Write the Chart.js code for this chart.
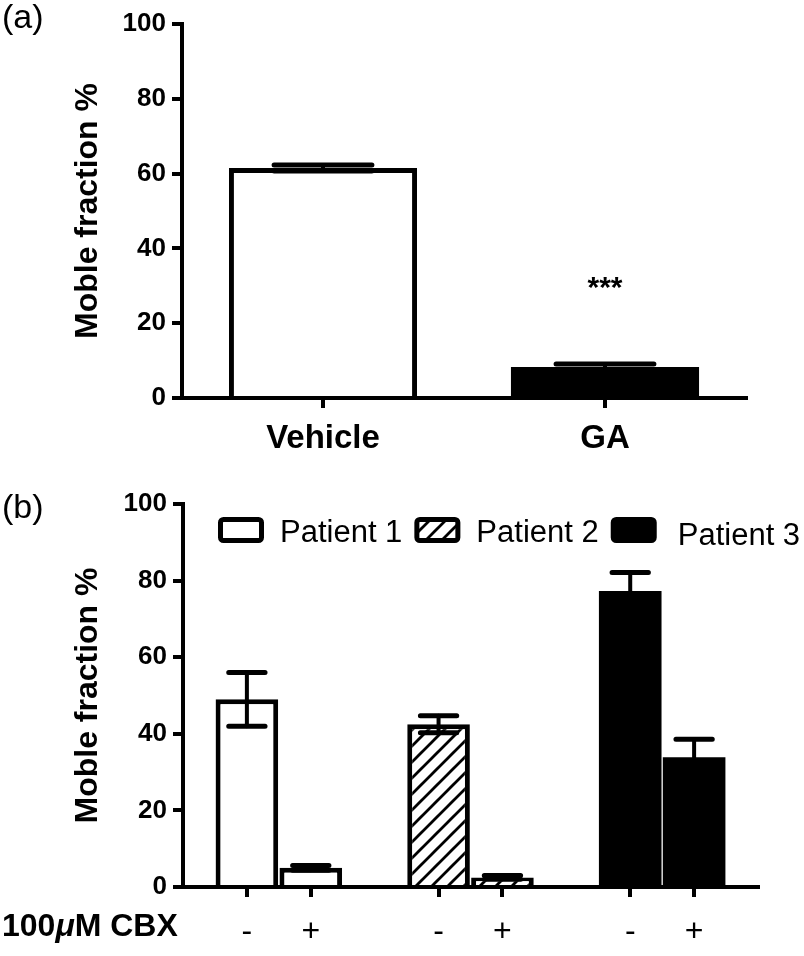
<!DOCTYPE html>
<html>
<head>
<meta charset="utf-8">
<title>Moble fraction</title>
<script src="https://cdn.jsdelivr.net/npm/chart.js@4.4.0/dist/chart.umd.min.js"></script>
<style>
  html, body { margin: 0; padding: 0; background: #ffffff; }
  .panel { position: relative; width: 804px; }
  #panelA { height: 470px; }
  #panelB { height: 486px; }
</style>
</head>
<body>
<div class="panel" id="panelA"><canvas id="chartA"></canvas></div>
<div class="panel" id="panelB"><canvas id="chartB"></canvas></div>
<script>
// panel (a)
const treatmentLabels = ["Vehicle", "GA"];
const treatmentValues = [61.5, 8.3];
const treatmentErrors = [0.8, 0.8];
const treatmentMarks = ["", "***"];

// panel (b)
const patientLabels = ["Patient 1", "Patient 2", "Patient 3"];
const cbxLabels = ["-", "+"];
const patient1Values = [49, 5];
const patient1Errors = [7, 0.6];
const patient2Values = [42.5, 2.5];
const patient2Errors = [2.2, 0.5];
const patient3Values = [77.3, 33.9];
const patient3Errors = [4.8, 4.7];

const yTicks = [0, 20, 40, 60, 80, 100];

const FONT = "'Liberation Sans', Arial, Helvetica, sans-serif";

// each patient gets a "-" and a "+" slot, with one empty slot between patients
const slotOf = (group, k) => group * (cbxLabels.length + 1) + k;

function makeHatch() {
  const c = document.createElement("canvas");
  c.width = 16;
  c.height = 16;
  const g = c.getContext("2d");
  g.fillStyle = "#ffffff";
  g.fillRect(0, 0, 16, 16);
  g.strokeStyle = "#000000";
  g.lineWidth = 2.8;
  g.beginPath();
  g.moveTo(-2, 18); g.lineTo(18, -2);
  g.moveTo(-10, 10); g.lineTo(10, -10);
  g.moveTo(6, 26); g.lineTo(26, 6);
  g.stroke();
  return g.createPattern(c, "repeat");
}

const errorBarPlugin = {
  id: "errorBars",
  afterDatasetsDraw(chart, args, opts) {
    const ctx = chart.ctx;
    const yScale = chart.scales.y;
    chart.data.datasets.forEach((ds, i) => {
      const meta = chart.getDatasetMeta(i);
      meta.data.forEach((bar, j) => {
        const raw = ds.data[j];
        const val = typeof raw === "object" ? raw.y : raw;
        const err = ds.errors[j];
        const yHi = yScale.getPixelForValue(val + err);
        const yLo = yScale.getPixelForValue(Math.max(0, val - err));
        const half = (bar.width * opts.capRatio) / 2;
        ctx.save();
        ctx.strokeStyle = "#000000";
        ctx.lineCap = "round";
        ctx.lineWidth = opts.stemWidth;
        ctx.beginPath();
        ctx.moveTo(bar.x, yHi);
        ctx.lineTo(bar.x, yLo);
        ctx.stroke();
        ctx.lineWidth = opts.capWidth;
        ctx.beginPath();
        ctx.moveTo(bar.x - half, yHi);
        ctx.lineTo(bar.x + half, yHi);
        ctx.moveTo(bar.x - half, yLo);
        ctx.lineTo(bar.x + half, yLo);
        ctx.stroke();
        ctx.restore();
      });
    });
  }
};

// free text: panel letters, row label
const panelTextPlugin = {
  id: "panelText",
  afterDraw(chart, args, opts) {
    const ctx = chart.ctx;
    ctx.save();
    ctx.fillStyle = "#000000";
    ctx.textBaseline = "alphabetic";
    ctx.textAlign = "left";
    (opts.items || []).forEach((item) => {
      let x = item.x;
      item.parts.forEach((p) => {
        ctx.font = p.font;
        ctx.fillText(p.text, x, item.y);
        x += ctx.measureText(p.text).width;
      });
    });
    ctx.restore();
  }
};

// significance stars above bars
const marksPlugin = {
  id: "marks",
  afterDatasetsDraw(chart, args, opts) {
    const ctx = chart.ctx;
    const meta = chart.getDatasetMeta(0);
    const y = chart.scales.y.getPixelForValue(opts.level);
    ctx.save();
    ctx.fillStyle = "#000000";
    ctx.font = opts.font;
    ctx.textAlign = "center";
    ctx.textBaseline = "alphabetic";
    meta.data.forEach((bar, j) => {
      if (opts.marks[j]) ctx.fillText(opts.marks[j], bar.x, y);
    });
    ctx.restore();
  }
};

// legend drawn inside the plot area, like the figure
const boxLegendPlugin = {
  id: "boxLegend",
  afterDraw(chart, args, opts) {
    const ctx = chart.ctx;
    const area = chart.chartArea;
    let x = area.left + opts.offsetX;
    const y = area.top + opts.offsetY;
    ctx.save();
    ctx.font = opts.font;
    ctx.textBaseline = "alphabetic";
    ctx.textAlign = "left";
    chart.data.datasets.forEach((ds, i) => {
      const bw = opts.boxWidth, bh = opts.boxHeight, lw = opts.lineWidth;
      ctx.beginPath();
      ctx.roundRect(x + lw / 2, y + lw / 2, bw - lw, bh - lw, 3);
      ctx.fillStyle = ds.backgroundColor;
      ctx.fill();
      ctx.lineWidth = lw;
      ctx.strokeStyle = "#000000";
      ctx.stroke();
      ctx.fillStyle = "#000000";
      const tx = x + bw + opts.textGap[i];
      ctx.fillText(ds.label, tx, y + bh - 1 + opts.textDrop[i]);
      x = tx + ctx.measureText(ds.label).width + opts.itemGap;
    });
    ctx.restore();
  }
};

function axisStyle(extra) {
  return Object.assign({
    grid: { display: true, drawOnChartArea: false, drawTicks: true, offset: false, tickLength: 10, lineWidth: 4, color: "#000000" },
    border: { display: true, width: 4, color: "#000000" }
  }, extra);
}

function yAxis(width) {
  return axisStyle({
    min: 0,
    max: 100,
    afterBuildTicks: (s) => { s.ticks = yTicks.map((v) => ({ value: v })); },
    ticks: { color: "#000000", padding: 6, font: { family: FONT, size: 26, weight: "bold" } },
    title: {
      display: true,
      text: "Moble fraction %",
      color: "#000000",
      font: { family: FONT, size: 32, weight: "bold" },
      padding: { top: 69, bottom: 0 }
    },
    afterFit: (s) => { s.width = width; }
  });
}

// ---- panel (a)
new Chart(document.getElementById("chartA"), {
  type: "bar",
  data: {
    labels: treatmentLabels,
    datasets: [{
      label: "Moble fraction %",
      data: treatmentValues,
      errors: treatmentErrors,
      backgroundColor: ["#ffffff", "#000000"],
      borderColor: "#000000",
      borderWidth: [5, 0],
      barPercentage: 0.667,
      categoryPercentage: 1
    }]
  },
  options: {
    responsive: true,
    maintainAspectRatio: false,
    animation: false,
    layout: { padding: { top: 24, right: 58, left: 0, bottom: 0 } },
    plugins: {
      legend: { display: false },
      tooltip: { enabled: false },
      errorBars: { capRatio: 0.52, capWidth: 5, stemWidth: 4 },
      marks: { marks: treatmentMarks, level: 27, font: "bold 30px " + FONT },
      panelText: { items: [{ x: 2, y: 28, parts: [{ text: "(a)", font: "34px " + FONT }] }] }
    },
    scales: {
      x: axisStyle({
        z: 1,
        ticks: { color: "#000000", padding: 11, font: { family: FONT, size: 33, weight: "bold" } },
        afterFit: (s) => { s.height = 72; }
      }),
      y: yAxis(182)
    }
  },
  plugins: [errorBarPlugin, marksPlugin, panelTextPlugin]
});

// ---- panel (b)
const hatch = makeHatch();
const patientSeries = [
  { values: patient1Values, errors: patient1Errors, fill: "#ffffff", border: 5 },
  { values: patient2Values, errors: patient2Errors, fill: hatch, border: 5 },
  { values: patient3Values, errors: patient3Errors, fill: "#000000", border: 0 }
];

const xTicks = [];
patientLabels.forEach((_, g) => cbxLabels.forEach((lab, k) => xTicks.push({ value: slotOf(g, k), label: lab })));

new Chart(document.getElementById("chartB"), {
  type: "bar",
  data: {
    datasets: patientSeries.map((s, g) => ({
      label: patientLabels[g],
      data: s.values.map((v, k) => ({ x: slotOf(g, k), y: v })),
      errors: s.errors,
      backgroundColor: s.fill,
      borderColor: "#000000",
      borderWidth: s.border,
      grouped: false,
      barPercentage: 1,
      categoryPercentage: 0.98
    }))
  },
  options: {
    responsive: true,
    maintainAspectRatio: false,
    animation: false,
    layout: { padding: { top: 34, right: 46, left: 0, bottom: 0 } },
    plugins: {
      legend: { display: false },
      tooltip: { enabled: false },
      errorBars: { capRatio: 0.58, capWidth: 5, stemWidth: 4 },
      boxLegend: {
        offsetX: 35, offsetY: 13, boxWidth: 46, boxHeight: 26, lineWidth: 5,
        textGap: [16, 16, 21], textDrop: [0, 0, 3], itemGap: 12, font: "31px " + FONT
      },
      panelText: {
        items: [
          { x: 2, y: 48, parts: [{ text: "(b)", font: "34px " + FONT }] },
          { x: 2, y: 466, parts: [
            { text: "100", font: "bold 32px " + FONT },
            { text: "\u03bc", font: "italic bold 32px " + FONT },
            { text: "M CBX", font: "bold 32px " + FONT }
          ] }
        ]
      }
    },
    scales: {
      x: axisStyle({
        type: "linear",
        z: 1,
        min: -1,
        max: slotOf(patientLabels.length - 1, cbxLabels.length),
        offset: false,
        afterBuildTicks: (s) => { s.ticks = xTicks.map((t) => ({ value: t.value })); },
        ticks: {
          color: "#000000",
          padding: 16,
          font: { family: FONT, size: 32 },
          callback: (value, index) => xTicks[index] ? xTicks[index].label : ""
        },
        afterFit: (s) => { s.height = 69; }
      }),
      y: yAxis(183)
    }
  },
  plugins: [errorBarPlugin, boxLegendPlugin, panelTextPlugin]
});
</script>
</body>
</html>
